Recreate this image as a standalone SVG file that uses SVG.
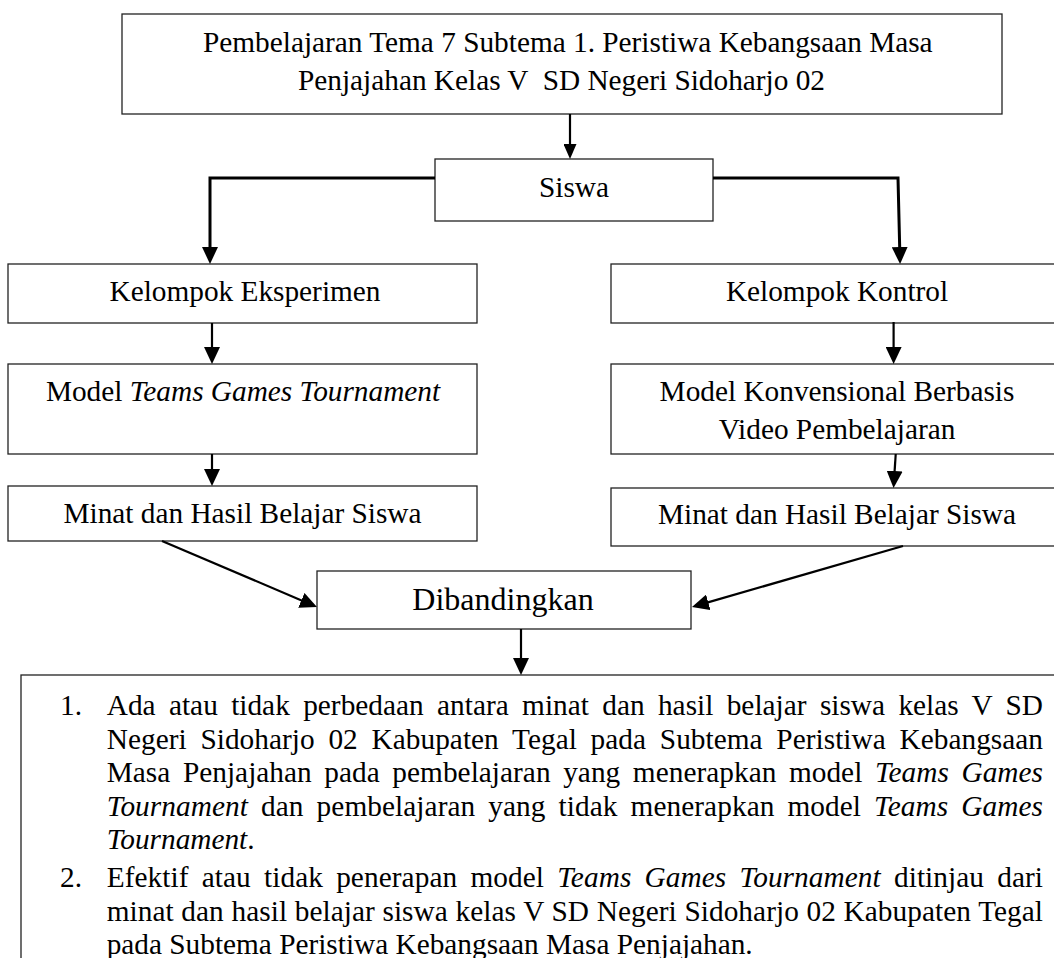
<svg xmlns="http://www.w3.org/2000/svg" width="1054" height="958" viewBox="0 0 1054 958">
<defs>
<style>
.t{font-family:"Liberation Serif","Times New Roman",serif;font-size:29.3px;fill:#000}
.m{text-anchor:middle}
.i{font-style:italic}
.box{fill:#fff;stroke:#222;stroke-width:1.3}
.ln{fill:none;stroke:#000;stroke-width:2.2}
.thick{stroke-width:3}
</style>
<marker id="a1" markerUnits="userSpaceOnUse" markerWidth="16" markerHeight="13" refX="11" refY="6.5" orient="auto"><path d="M0,0 L15,6.5 L0,13 z" fill="#000"/></marker>
<marker id="a2" markerUnits="userSpaceOnUse" markerWidth="18" markerHeight="16" refX="13" refY="8" orient="auto"><path d="M0,0 L17,8 L0,16 z" fill="#000"/></marker>
</defs>
<rect width="1054" height="958" fill="#fff"/>

<g id="top">
<rect class="box" x="122" y="14" width="880" height="100"/>
<text class="t" x="203" y="52">Pembelajaran Tema 7 Subtema 1. Peristiwa Kebangsaan Masa</text>
<text class="t" x="298" y="90" xml:space="preserve">Penjajahan Kelas V  SD Negeri Sidoharjo 02</text>
</g>

<g id="siswa">
<rect class="box" x="435" y="159" width="278" height="62"/>
<text class="t m" x="574" y="197">Siswa</text>
</g>

<g id="kelompok-eksperimen">
<rect class="box" x="8" y="264" width="469" height="59"/>
<text class="t m" x="245" y="301">Kelompok Eksperimen</text>
</g>

<g id="model-tgt">
<rect class="box" x="8" y="364" width="469" height="90"/>
<text class="t m" x="243" y="401">Model <tspan class="i">Teams Games Tournament</tspan></text>
</g>

<g id="minat-1">
<rect class="box" x="8" y="486" width="469" height="55"/>
<text class="t m" x="242.5" y="523">Minat dan Hasil Belajar Siswa</text>
</g>

<g id="kelompok-kontrol">
<rect class="box" x="611" y="264" width="460" height="59"/>
<text class="t m" x="837" y="301">Kelompok Kontrol</text>
</g>

<g id="model-konvensional">
<rect class="box" x="611" y="364" width="460" height="90"/>
<text class="t m" x="837" y="401">Model Konvensional Berbasis</text>
<text class="t m" x="837" y="439">Video Pembelajaran</text>
</g>

<g id="minat-2">
<rect class="box" x="611" y="488" width="460" height="58"/>
<text class="t m" x="837" y="524">Minat dan Hasil Belajar Siswa</text>
</g>

<g id="dibandingkan">
<rect class="box" x="317" y="571" width="374" height="58"/>
<text class="t m" x="503" y="610" style="font-size:32px">Dibandingkan</text>
</g>

<g id="kesimpulan">
<rect class="box" x="21" y="675" width="1100" height="400"/>
<text class="t" x="60" y="715">1.</text>
<text class="t" x="106.7" y="715" word-spacing="6.0" textLength="936.3" lengthAdjust="spacing">Ada atau tidak perbedaan antara minat dan hasil belajar siswa kelas V SD</text>
<text class="t" x="106.7" y="748.5" word-spacing="6.4" textLength="936.3" lengthAdjust="spacing">Negeri Sidoharjo 02 Kabupaten Tegal pada Subtema Peristiwa Kebangsaan</text>
<text class="t" x="106.7" y="782" word-spacing="5.2" textLength="936.3" lengthAdjust="spacing">Masa Penjajahan pada pembelajaran yang menerapkan model <tspan class="i">Teams Games</tspan></text>
<text class="t" x="106.7" y="815.5" word-spacing="5.6" textLength="936.3" lengthAdjust="spacing"><tspan class="i">Tournament</tspan> dan pembelajaran yang tidak menerapkan model <tspan class="i">Teams Games</tspan></text>
<text class="t" x="106.7" y="849"><tspan class="i">Tournament</tspan>.</text>
<text class="t" x="60" y="887">2.</text>
<text class="t" x="106.7" y="887" word-spacing="5.8" textLength="936.3" lengthAdjust="spacing">Efektif atau tidak penerapan model <tspan class="i">Teams Games Tournament</tspan> ditinjau dari</text>
<text class="t" x="106.7" y="920.5" word-spacing="0.3" textLength="936.3" lengthAdjust="spacing">minat dan hasil belajar siswa kelas V SD Negeri Sidoharjo 02 Kabupaten Tegal</text>
<text class="t" x="106.7" y="954">pada Subtema Peristiwa Kebangsaan Masa Penjajahan.</text>
</g>

<g id="connectors">
<path class="ln" d="M570,114 V155" marker-end="url(#a1)"/>
<path class="ln thick" d="M435,178 H210 V260" marker-end="url(#a2)"/>
<path class="ln thick" d="M713,178 H898 L900,260" marker-end="url(#a2)"/>
<path class="ln" d="M212,323 V360" marker-end="url(#a2)"/>
<path class="ln" d="M212,454 V482" marker-end="url(#a2)"/>
<path class="ln" d="M893.6,322 V360" marker-end="url(#a2)"/>
<path class="ln" d="M895.7,454 L893.8,484" marker-end="url(#a2)"/>
<path class="ln" d="M162,541 L313.3,605.4" marker-end="url(#a2)"/>
<path class="ln" d="M903,546 L695.8,605.9" marker-end="url(#a2)"/>
<path class="ln" d="M521,629 V671" marker-end="url(#a2)"/>
</g>
</svg>
